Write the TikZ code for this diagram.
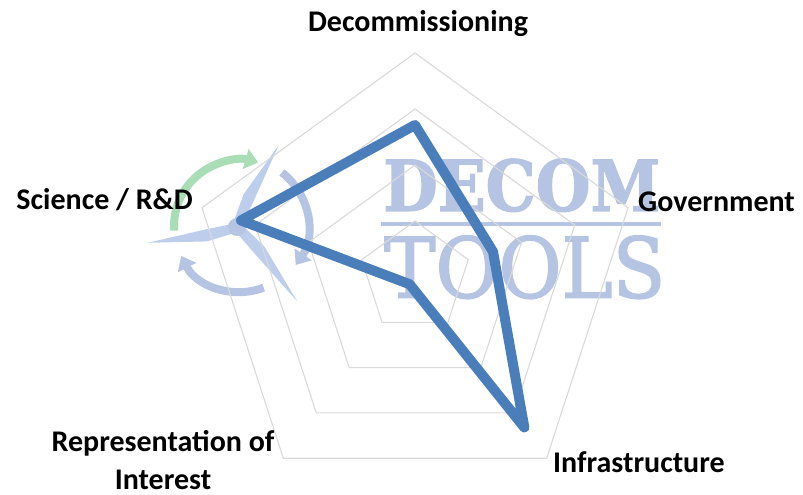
\documentclass[tikz,border=0pt]{standalone}
\usepackage{graphicx}
\usepackage{fontspec}
\setmainfont{Carlito}
\newfontface\decomfont{DejaVu Serif Bold}[FakeBold=2]
\newfontface\toolsfont{DejaVu Serif}[FakeBold=2]
\usepackage{tikz}
\usepackage{xcolor}
\usetikzlibrary{arrows.meta, positioning}
\definecolor{radarblue}{RGB}{74, 126, 187}
\definecolor{radargrid}{RGB}{217, 217, 217}
\definecolor{decomblue}{RGB}{180, 196, 226}
\definecolor{decomblade}{RGB}{188, 206, 236}
\definecolor{decomgreen}{RGB}{168, 221, 181}

\begin{document}
\begin{tikzpicture}[
    x=1pt, y=1pt,
    axislabel/.style={
        font=\bfseries\fontsize{30}{38}\selectfont,
        text=black,
        inner sep=0pt
    },
    gridline/.style={
        draw=radargrid,
        line width=1.1pt
    },
    series/.style={
        draw=radarblue,
        line width=10pt,
        line join=round,
        line cap=round
    },
    recycle/.style={
        line width=8pt,
        -{Triangle[width=20pt,length=13pt]}
    },
    watermark/.style={
        inner sep=0pt,
        anchor=south west,
        text=decomblue
    }
]

% Bounding box
\useasboundingbox (-415,-218) rectangle (388,277);

% Watermark logo (arrows and turbine)
\begin{scope}[shift={(-175,51)}]
    \draw[recycle, decomgreen] (184:66) arc (184:74:66);
    \draw[recycle, decomblue] (52:68) arc (52:-35:68);
    \draw[recycle, decomblue] (-69:66) arc (-69:-153:66);
\end{scope}
\begin{scope}[shift={(-178,50)}]
    \foreach \ang/\len in {63/92, 190/91, -51/96} {
        \fill[decomblade, rotate=\ang] (0,-4) -- (0,5) -- (32,9) -- (\len,0) -- (32,-3) -- cycle;
    }
    \fill[decomblue] (0,0) circle (9);
\end{scope}

% Watermark text
\node[watermark] (decomword) at (-32,65) {\resizebox{277pt}{52pt}{\decomfont DECOM}};
\fill[decomblue] (-34,50.5) rectangle (246,54.5);
\node[watermark] (toolsword) at (-31,-22) {\resizebox{281pt}{62pt}{\toolsfont TOOLS}};

% Grid pentagons
\foreach \r in {56,112,168,224} {
    \draw[gridline] (90:\r) -- (18:\r) -- (-54:\r) -- (-126:\r) -- (162:\r) -- cycle;
}

% Data series
\coordinate (pdecom) at (90:152);
\coordinate (pgov) at (18:82);
\coordinate (pinfra) at (-54:186);
\coordinate (prep) at (-126:9);
\coordinate (psci) at (162:183);
\draw[series] (pdecom) -- (pgov) -- (pinfra) -- (prep) -- (psci) -- cycle;

% Axis labels
\node[axislabel, anchor=base] (decom) at (3,245) {Decommissioning};
\node[axislabel, anchor=base west] (gov) at (223,65) {Government};
\node[axislabel, anchor=base west] (infra) at (138,-195) {Infrastructure};
\node[axislabel, anchor=base east] (sci) at (-222,67) {Science / R\&D};
\node[axislabel, align=center, anchor=base] (rep) at (-252,-212) {Representation of\\Interest};

\end{tikzpicture}
\end{document}
